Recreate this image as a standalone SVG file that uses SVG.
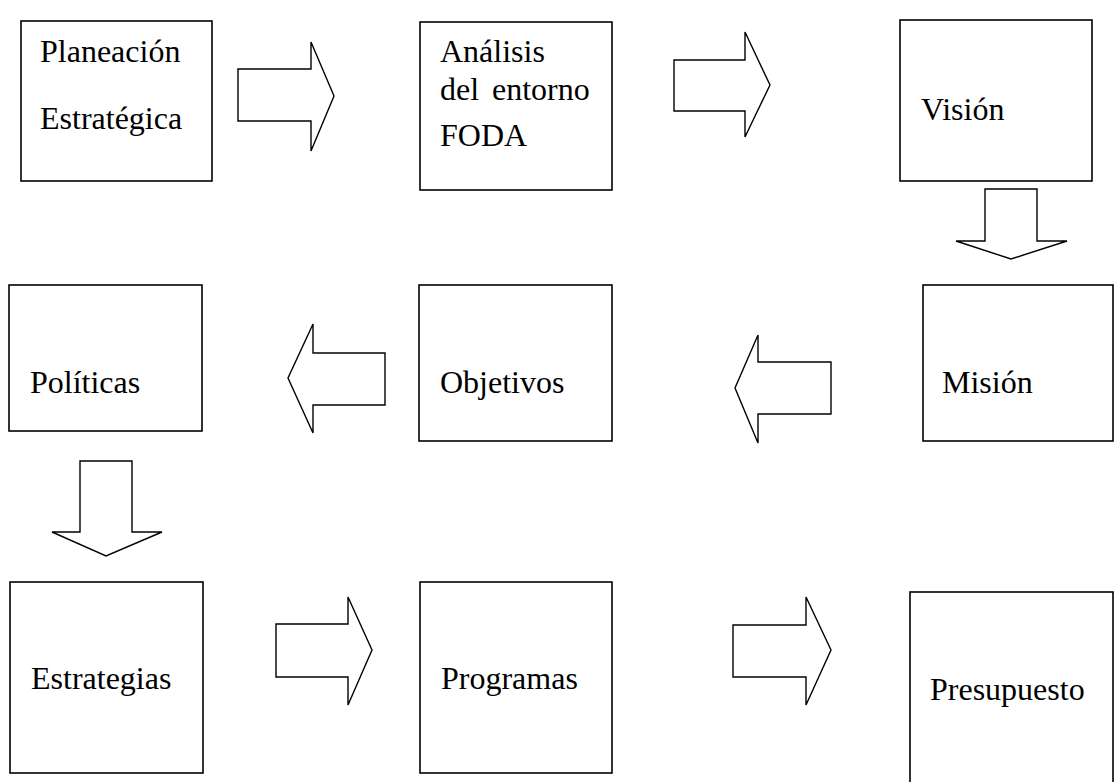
<svg xmlns="http://www.w3.org/2000/svg" width="1115" height="782" viewBox="0 0 1115 782">
<style>
.box{fill:#fff;stroke:#000;stroke-width:1.6}
.arr{fill:#fff;stroke:#000;stroke-width:1.4;stroke-linejoin:miter}
text{font-size:32px;fill:#000}
</style>
<rect width="1115" height="782" fill="#fff"/>
<g id="connectors">
<polygon class="arr" points="238,69 311,69 311,42 334,96 311,151 311,121 238,121"/>
<polygon class="arr" points="674,60 745,60 745,32 770,85 745,137 745,111 674,111"/>
<polygon class="arr" points="985,189 1037,189 1037,241 1067,241 1011,259 956,241 985,241"/>
<polygon class="arr" points="385,353 313,353 313,324 288,378 313,433 313,405 385,405"/>
<polygon class="arr" points="831,362 758,362 758,335 735,388 758,443 758,414 831,414"/>
<polygon class="arr" points="80,461 132,461 132,532 162,532 106,556 52,532 80,532"/>
<polygon class="arr" points="276,624 348,624 348,597 372,650 348,705 348,677 276,677"/>
<polygon class="arr" points="733,625 806,625 806,597 831,650 806,705 806,677 733,677"/>
</g>
<g font-family="Liberation Serif, Times New Roman, serif">
<g id="planeacion">
<rect class="box" x="21" y="21" width="191" height="160"/>
<text x="40" y="62">Planeación</text>
<text x="40" y="129">Estratégica</text>
</g>
<g id="analisis">
<rect class="box" x="420" y="22" width="192" height="168"/>
<text x="440" y="62">Análisis</text>
<text y="100"><tspan x="440">del</tspan> <tspan x="492">entorno</tspan></text>
<text x="440" y="146">FODA</text>
</g>
<g id="vision">
<rect class="box" x="900" y="20" width="192" height="161"/>
<text x="921" y="120">Visión</text>
</g>
<g id="politicas">
<rect class="box" x="9" y="285" width="193" height="146"/>
<text x="30" y="393">Políticas</text>
</g>
<g id="objetivos">
<rect class="box" x="419" y="285" width="193" height="156"/>
<text x="440" y="393">Objetivos</text>
</g>
<g id="mision">
<rect class="box" x="923" y="285" width="190" height="156"/>
<text x="942" y="393">Misión</text>
</g>
<g id="estrategias">
<rect class="box" x="10" y="582" width="193" height="191"/>
<text x="31" y="689">Estrategias</text>
</g>
<g id="programas">
<rect class="box" x="420" y="582" width="192" height="191"/>
<text x="441" y="689">Programas</text>
</g>
<g id="presupuesto">
<rect class="box" x="910" y="592" width="203" height="220"/>
<text x="930" y="700">Presupuesto</text>
</g>
</g>
</svg>
